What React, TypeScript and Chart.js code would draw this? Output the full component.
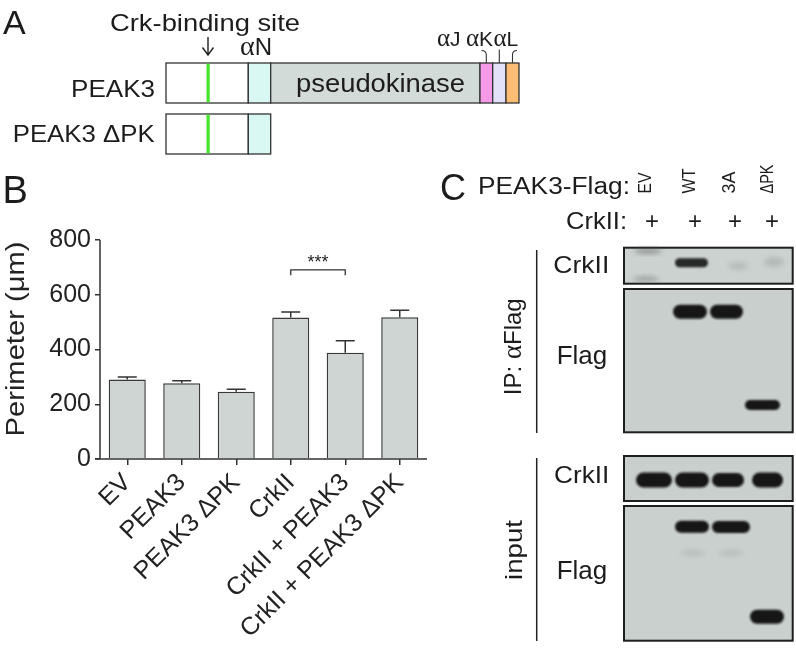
import React, { useEffect, useRef } from "react";
import { Chart, registerables } from "chart.js";

Chart.register(...registerables);

// ---- Panel B data ----
const categories = ["EV", "PEAK3", "PEAK3 ΔPK", "CrkII", "CrkII + PEAK3", "CrkII + PEAK3 ΔPK"];
const perimeterMean = [290, 277, 246, 517, 388, 518];
const perimeterSem = [10, 9, 9, 20, 44, 25];
const yTickValues = [0, 200, 400, 600, 800];
const yAxisTitle = "Perimeter (μm)";
const sigFromIndex = 3;
const sigToIndex = 4;
const sigBracketValue = 691;
const sigLabel = "***";

// ---- Panel C labels ----
const laneLabels = ["EV", "WT", "3A", "ΔPK"];
const crkIIRow = ["+", "+", "+", "+"];

const SANS = '"Liberation Sans", Arial, Helvetica, sans-serif';
const SERIF = '"Liberation Serif", "DejaVu Serif", serif';

const overlayPlugin = {
  id: "overlayPlugin",
  afterDatasetsDraw(chart: any) {
    const ctx = chart.ctx as CanvasRenderingContext2D;
    const xs = chart.scales.x;
    const ys = chart.scales.y;
    const area = chart.chartArea;
    ctx.save();
    ctx.strokeStyle = "#333";
    ctx.lineWidth = 1.5;
    // error bars (upper only)
    perimeterMean.forEach((m, i) => {
      const cx = xs.getPixelForValue(i);
      const yBar = ys.getPixelForValue(m);
      const yTop = ys.getPixelForValue(m + perimeterSem[i]);
      ctx.beginPath();
      ctx.moveTo(cx, yBar);
      ctx.lineTo(cx, yTop);
      ctx.moveTo(cx - 9.5, yTop);
      ctx.lineTo(cx + 9.5, yTop);
      ctx.stroke();
    });
    // axis lines
    ctx.beginPath();
    ctx.moveTo(area.left, ys.getPixelForValue(yTickValues[yTickValues.length - 1]));
    ctx.lineTo(area.left, area.bottom);
    ctx.moveTo(area.left - 5, area.bottom);
    ctx.lineTo(area.right, area.bottom);
    ctx.stroke();
    // significance bracket
    const x1 = xs.getPixelForValue(sigFromIndex);
    const x2 = xs.getPixelForValue(sigToIndex);
    const yb = ys.getPixelForValue(sigBracketValue);
    ctx.lineWidth = 1.3;
    ctx.beginPath();
    ctx.moveTo(x1, yb + 5.5);
    ctx.lineTo(x1, yb);
    ctx.lineTo(x2, yb);
    ctx.lineTo(x2, yb + 5.5);
    ctx.stroke();
    ctx.fillStyle = "#222";
    ctx.font = `18px ${SANS}`;
    ctx.textAlign = "center";
    ctx.textBaseline = "alphabetic";
    ctx.fillText(sigLabel, (x1 + x2) / 2, yb - 2);
    // y-axis title
    ctx.translate(17, 169);
    ctx.rotate(-Math.PI / 2);
    ctx.font = `26px ${SANS}`;
    const w = ctx.measureText(yAxisTitle).width;
    ctx.scale(195 / w, 1);
    ctx.textBaseline = "middle";
    ctx.fillText(yAxisTitle, 0, 0);
    ctx.restore();
  },
};

function Band({ x, w, cy, h, o = 1 }: { x: number; w: number; cy: number; h: number; o?: number }) {
  return (
    <rect x={x} y={cy - h / 2} width={w} height={h} rx={h / 2} ry={h / 2} fill="#161616" opacity={o} filter="url(#blur)" />
  );
}

export default function App() {
  const ref = useRef<HTMLCanvasElement>(null);

  useEffect(() => {
    if (!ref.current) return;
    const chart = new Chart(ref.current, {
      type: "bar",
      data: {
        labels: categories,
        datasets: [
          {
            data: perimeterMean,
            backgroundColor: "#cfd5d3",
            borderColor: "#3a3a3a",
            borderWidth: 1.5,
            categoryPercentage: 1,
            barPercentage: 0.68,
          },
        ],
      },
      options: {
        responsive: false,
        animation: false,
        layout: { padding: { top: 70, right: 13, left: 0, bottom: 0 } },
        plugins: { legend: { display: false }, tooltip: { enabled: false } },
        scales: {
          x: {
            grid: {
              display: true,
              drawOnChartArea: false,
              drawTicks: true,
              tickLength: 6,
              offset: false,
              color: "#333",
              lineWidth: 1.5,
            },
            border: { display: false },
            ticks: {
              autoSkip: false,
              maxRotation: 45,
              minRotation: 45,
              font: { family: SANS, size: 25 },
              color: "#222",
              padding: 3,
            },
            afterFit: (s: any) => {
              s.height = 191;
            },
          },
          y: {
            min: 0,
            max: 800,
            afterBuildTicks: (s: any) => {
              s.ticks = yTickValues.map((v) => ({ value: v }));
            },
            grid: {
              drawOnChartArea: false,
              drawTicks: true,
              tickLength: 5,
              color: "#333",
              lineWidth: 1.5,
            },
            border: { display: false },
            ticks: {
              font: { family: SANS, size: 25 },
              color: "#222",
              padding: 4,
            },
            afterFit: (s: any) => {
              s.width = 100;
            },
          },
        },
      } as any,
      plugins: [overlayPlugin],
    });
    return () => chart.destroy();
  }, []);

  const laneCenters = [644.5, 688.5, 729, 767];
  const laneTextLengths = [21, 25, 22, 29];
  const plusCenters = [652, 695, 735, 772];

  return (
    <div style={{ position: "absolute", left: 0, top: 0, width: 796, height: 650, background: "#fff", overflow: "hidden" }}>
      <canvas
        ref={ref}
        width={440}
        height={480}
        style={{ position: "absolute", left: 0, top: 170, width: 440, height: 480, display: "block" }}
      />
      <svg width={796} height={650} style={{ position: "absolute", left: 0, top: 0 }} fontFamily={SANS} fill="#1c1c1c">
        <defs>
          <filter id="blur" x="-20%" y="-50%" width="140%" height="200%">
            <feGaussianBlur stdDeviation="1.1" />
          </filter>
          <filter id="blur2" x="-50%" y="-50%" width="200%" height="200%">
            <feGaussianBlur stdDeviation="2.5" />
          </filter>
        </defs>

        {/* ---------- Panel A ---------- */}
        <text x={3} y={34} fontSize={34}>A</text>
        <text x={110} y={31} fontSize={24} textLength={190} lengthAdjust="spacingAndGlyphs">Crk-binding site</text>
        <path d="M208 37 V55 M202.5 47.5 L208 55 L213.5 47.5" stroke="#222" strokeWidth={1.4} fill="none" />
        <text x={240} y={55} fontSize={24}>
          <tspan fontFamily={SERIF} fontSize={28}>α</tspan>
          <tspan>N</tspan>
        </text>
        <text x={437} y={46} fontSize={21}>
          <tspan fontFamily={SERIF} fontSize={25}>α</tspan>
          <tspan>J</tspan>
        </text>
        <text x={466} y={46} fontSize={21}>
          <tspan fontFamily={SERIF} fontSize={25}>α</tspan>
          <tspan>K</tspan>
        </text>
        <text x={493.5} y={46} fontSize={21}>
          <tspan fontFamily={SERIF} fontSize={25}>α</tspan>
          <tspan>L</tspan>
        </text>
        <path d="M481.5 50.5 Q486.3 50.5 486.3 55 V63 M499.3 49.5 V63 M517 50.5 Q512.5 50.5 512.5 55 V63" stroke="#333" strokeWidth={1.1} fill="none" />

        <text x={71} y={96.7} fontSize={23} textLength={84} lengthAdjust="spacingAndGlyphs">PEAK3</text>
        <g stroke="#333" strokeWidth={1.3}>
          <rect x={166} y={63} width={82.3} height={40} fill="#ffffff" />
          <rect x={248.3} y={63} width={22.4} height={40} fill="#d9f7f3" />
          <rect x={270.7} y={63} width={209.3} height={40} fill="#d3dbd9" />
          <rect x={480} y={63} width={12.7} height={40} fill="#f59ae8" />
          <rect x={492.7} y={63} width={13.3} height={40} fill="#e3e0fa" />
          <rect x={506} y={63} width={13} height={40} fill="#fbbd74" />
        </g>
        <rect x={206.5} y={63.7} width={3.2} height={38.6} fill="#45e52b" />
        <text x={296} y={92} fontSize={25} textLength={169} lengthAdjust="spacingAndGlyphs">pseudokinase</text>

        <text x={12.7} y={141.7} fontSize={23} textLength={142} lengthAdjust="spacingAndGlyphs">PEAK3 ΔPK</text>
        <g stroke="#333" strokeWidth={1.3}>
          <rect x={166} y={114} width={82.3} height={40} fill="#ffffff" />
          <rect x={248.3} y={114} width={22.4} height={40} fill="#d9f7f3" />
        </g>
        <rect x={206.5} y={114.7} width={3.2} height={38.6} fill="#45e52b" />

        {/* ---------- Panel B letter ---------- */}
        <text x={2.5} y={202.7} fontSize={38}>B</text>

        {/* ---------- Panel C ---------- */}
        <text x={440} y={200} fontSize={36}>C</text>
        <text x={478} y={194} fontSize={23} textLength={152} lengthAdjust="spacingAndGlyphs">PEAK3-Flag:</text>
        {laneLabels.map((l, i) => {
          const bx = laneCenters[i] + 6.3;
          return (
            <text
              key={l}
              x={bx}
              y={193.5}
              fontSize={18}
              textLength={laneTextLengths[i]}
              lengthAdjust="spacingAndGlyphs"
              transform={`rotate(-90 ${bx} 193.5)`}
            >
              {l}
            </text>
          );
        })}
        <text x={566} y={228.5} fontSize={24} textLength={61} lengthAdjust="spacingAndGlyphs">CrkII:</text>
        {crkIIRow.map((p, i) => (
          <text key={i} x={plusCenters[i]} y={229} fontSize={24} textAnchor="middle">{p}</text>
        ))}

        {/* side labels */}
        <line x1={536.7} y1={250} x2={536.7} y2={433} stroke="#222" strokeWidth={1.5} />
        <line x1={536.7} y1={458} x2={536.7} y2={641} stroke="#222" strokeWidth={1.5} />
        <text x={521} y={346.7} fontSize={24} textAnchor="middle" transform="rotate(-90 521 346.7)">
          <tspan>IP: </tspan>
          <tspan fontFamily={SERIF} fontSize={27}>α</tspan>
          <tspan>Flag</tspan>
        </text>
        <text x={521.5} y={550} fontSize={24} textAnchor="middle" textLength={60} lengthAdjust="spacingAndGlyphs" transform="rotate(-90 521.5 550)">input</text>

        <text x={553.3} y={273.3} fontSize={24} textLength={56} lengthAdjust="spacingAndGlyphs">CrkII</text>
        <text x={556.7} y={364.3} fontSize={25} textLength={50.6} lengthAdjust="spacingAndGlyphs">Flag</text>
        <text x={554} y={483.3} fontSize={24} textLength={55.3} lengthAdjust="spacingAndGlyphs">CrkII</text>
        <text x={556.7} y={579.3} fontSize={25} textLength={50.6} lengthAdjust="spacingAndGlyphs">Flag</text>

        {/* blots */}
        <g stroke="#1e1e1e" strokeWidth={2}>
          <rect x={624} y={247.7} width={168.7} height={36} fill="#cbd2d0" />
          <rect x={624} y={289} width={168.7} height={143.3} fill="#c8cfcd" />
          <rect x={624} y={456} width={168.7} height={45} fill="#c8cfcd" />
          <rect x={624} y={506} width={168.7} height={134.7} fill="#c9d0ce" />
        </g>
        {/* IP CrkII */}
        <ellipse cx={648} cy={251} rx={14} ry={3} fill="#555" opacity={0.45} filter="url(#blur2)" />
        <ellipse cx={646} cy={279} rx={13} ry={3} fill="#555" opacity={0.35} filter="url(#blur2)" />
        <ellipse cx={738} cy={266} rx={10} ry={4} fill="#666" opacity={0.2} filter="url(#blur2)" />
        <ellipse cx={774} cy={262} rx={10} ry={5} fill="#666" opacity={0.22} filter="url(#blur2)" />
        <Band x={675} w={33} cy={262.7} h={9} o={0.9} />
        {/* IP Flag */}
        <Band x={673} w={34} cy={311.7} h={14} />
        <Band x={710} w={33} cy={311.7} h={14} />
        <Band x={745} w={35} cy={405} h={10} />
        {/* input CrkII */}
        <Band x={636} w={36} cy={480} h={15} />
        <Band x={675} w={34} cy={480} h={15} />
        <Band x={712} w={32} cy={480} h={14} />
        <Band x={752} w={31} cy={480} h={15} />
        {/* input Flag */}
        <Band x={675} w={34} cy={526.7} h={12} />
        <Band x={712} w={38} cy={527} h={12} />
        <ellipse cx={693} cy={553} rx={12} ry={3} fill="#777" opacity={0.2} filter="url(#blur2)" />
        <ellipse cx={731} cy={553} rx={12} ry={3} fill="#777" opacity={0.2} filter="url(#blur2)" />
        <Band x={750} w={34} cy={616.7} h={14} />
      </svg>
    </div>
  );
}
